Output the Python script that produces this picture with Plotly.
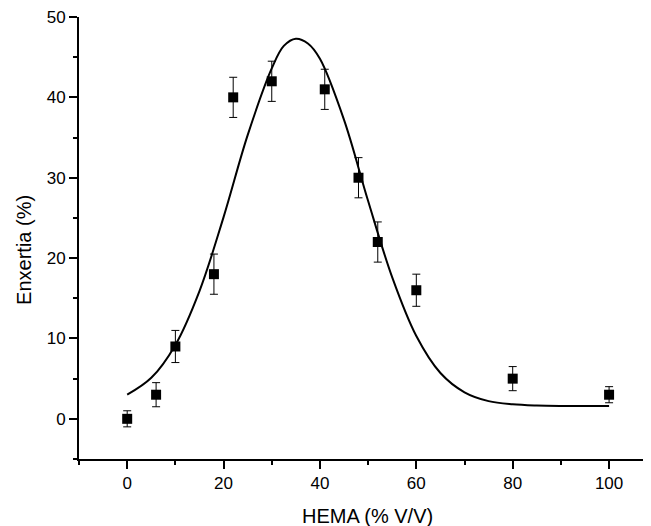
import plotly.graph_objects as go

# Measured data (HEMA % V/V vs Enxertia %)
hema = [0, 6, 10, 18, 22, 30, 41, 48, 52, 60, 80, 100]
enxertia = [0, 3, 9, 18, 40, 42, 41, 30, 22, 16, 5, 3]
err = [1, 1.5, 2, 2.5, 2.5, 2.5, 2.5, 2.5, 2.5, 2, 1.5, 1]

# Fitted curve
fit_x = [0, 5, 10, 15, 20, 25, 30, 32.5, 35, 37.5, 40, 45, 50, 55, 60, 65, 70, 75, 80, 85, 90, 95, 100]
fit_y = [3.0, 5.1, 9.2, 15.9, 25.1, 35.3, 43.6, 46.4, 47.3, 46.7, 44.8, 37.2, 27.1, 17.6, 10.3, 5.7, 3.3, 2.2, 1.8, 1.65, 1.6, 1.6, 1.6]

x_ticks = [0, 20, 40, 60, 80, 100]
y_ticks = [0, 10, 20, 30, 40, 50]

FONT = "Liberation Sans, Arial, sans-serif"

fig = go.Figure()
fig.add_trace(go.Scatter(
    x=fit_x, y=fit_y, mode="lines", line=dict(color="black", width=2, shape="spline", smoothing=1.0),
    hoverinfo="skip", showlegend=False, cliponaxis=False))
fig.add_trace(go.Scatter(
    x=hema, y=enxertia, mode="markers",
    marker=dict(symbol="square", size=10, color="black"),
    error_y=dict(type="data", array=err, visible=True, color="black", thickness=1, width=4),
    showlegend=False))

axis_common = dict(
    showline=True, linecolor="black", linewidth=2, mirror=False,
    ticks="outside", ticklen=8, tickwidth=2, tickcolor="black",
    showgrid=False, zeroline=False, ticklabeloverflow="allow",
    tickfont=dict(family=FONT, size=17, color="black"),
)
fig.update_xaxes(range=[-10, 108.7], tickvals=x_ticks, ticktext=[str(v) for v in x_ticks],
                 minor=dict(ticks="outside", ticklen=4, tickwidth=2, tickcolor="black", dtick=10, tick0=0),
                 **axis_common)
fig.update_yaxes(range=[-5, 50], tickvals=y_ticks, ticktext=[str(v) for v in y_ticks],
                 minor=dict(ticks="outside", ticklen=4, tickwidth=2, tickcolor="black", dtick=5, tick0=0),
                 **axis_common)

fig.update_layout(
    width=643, height=518,
    margin=dict(l=71, r=0, t=9, b=67),
    plot_bgcolor="white", paper_bgcolor="white",
    annotations=[
        dict(text="HEMA (% V/V)", xref="paper", yref="paper", x=0.504, y=-0.129,
             xanchor="center", yanchor="middle", showarrow=False,
             font=dict(family=FONT, size=20, color="black")),
        dict(text="Enxertia (%)", xref="paper", yref="paper", x=-0.0962, y=0.473,
             xanchor="center", yanchor="middle", showarrow=False, textangle=-90,
             font=dict(family=FONT, size=20, color="black")),
    ],
)

fig.write_html("out.html")
